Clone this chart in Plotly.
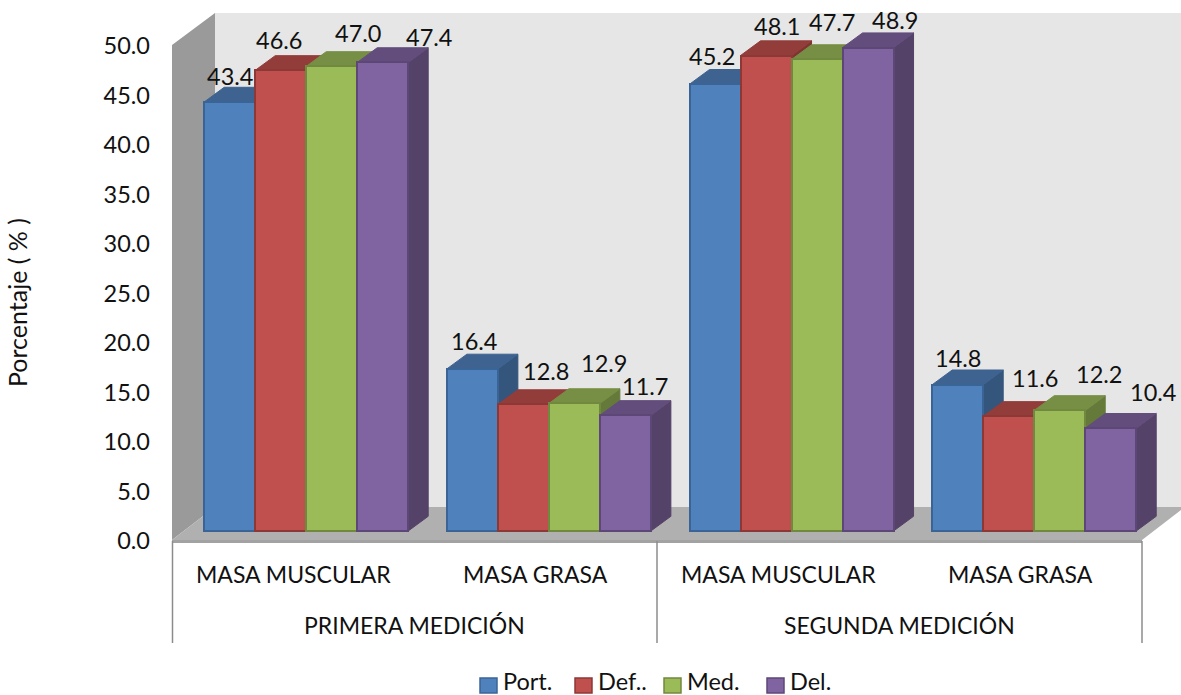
import plotly.graph_objects as go

# Body composition percentages per playing position
SERIES = ["Port.", "Def..", "Med.", "Del."]
PORT = [43.4, 16.4, 45.2, 14.8]
DEF = [46.6, 12.8, 48.1, 11.6]
MED = [47.0, 12.9, 47.7, 12.2]
DEL = [47.4, 11.7, 48.9, 10.4]
VALUES = [PORT, DEF, MED, DEL]

CATEGORIES = ["MASA MUSCULAR", "MASA GRASA", "MASA MUSCULAR", "MASA GRASA"]
MEASUREMENTS = ["PRIMERA MEDICIÓN", "SEGUNDA MEDICIÓN"]
Y_TICKS = [0, 5, 10, 15, 20, 25, 30, 35, 40, 45, 50]

FRONT = ["#4F81BD", "#C0504D", "#9BBB59", "#8064A2"]
EDGE = ["#3A6496", "#8C3836", "#71893F", "#5C4776"]
TOP = ["#3E6390", "#933D3B", "#778F44", "#624D7C"]
SIDE = ["#34557C", "#7F3432", "#657A3A", "#544268"]

# Hand-placed value labels: pixel offsets from each bar's top centre, by series then group
LABEL_DX = [[0.5, 1.5, -3, 0.5], [-1.5, 22.5, 10.5, 26.5], [26, 30, 15, 39], [46, 20, 27, 42.5]]
LABEL_DY = [[-26, -28, -28, -27], [-30, -33.5, -29.5, -38], [-33, -40.5, -37.5, -36], [-25.5, -29, -27.6, -36]]

# Legend entries: swatch left edge and label left edge in pixels
LEGEND_SWATCH_PX = [480, 575, 664, 767]
LEGEND_TEXT_PX = [501, 596, 685, 788]

W, H = 1181, 695
FONT = "Lato"
BAR_PX = 51.0
GROUP_PX = 242.67
FIRST_BAR_PX = 204.2
DEPTH_X_PX, DEPTH_Y_PX = 20.0, 14.7

# The wall axis has its zero on the front floor edge, the bar axes on the bar feet
WALL_ZERO_PX, WALL_SCALE = 541.0, 9.9
BAR_ZERO_PX, BAR_SCALE = 531.0, 9.885

wall_range = [(WALL_ZERO_PX - H) / WALL_SCALE, WALL_ZERO_PX / WALL_SCALE]
bar_range = [(BAR_ZERO_PX - H) / BAR_SCALE, BAR_ZERO_PX / BAR_SCALE]
x_range = [-FIRST_BAR_PX / BAR_PX, (W - FIRST_BAR_PX) / BAR_PX]

depth_x = DEPTH_X_PX / BAR_PX
depth_y = DEPTH_Y_PX / BAR_SCALE
group_step = GROUP_PX / BAR_PX


def bar_left(series, group):
    return group * group_step + series


fig = go.Figure()

# Carries the value axis so its ticks are drawn
fig.add_trace(go.Scatter(
    x=[x_range[0]] * len(Y_TICKS), y=Y_TICKS, mode="markers", marker=dict(opacity=0),
    hoverinfo="skip", showlegend=False,
))

# Side and top faces, painted from left to right
for s, name in enumerate(SERIES):
    side_x, side_y, top_x, top_y = [], [], [], []
    for g, v in enumerate(VALUES[s]):
        xl = bar_left(s, g)
        xr = xl + 1
        side_x += [xr, xr + depth_x, xr + depth_x, xr, xr, None]
        side_y += [0, depth_y, v + depth_y, v, 0, None]
        top_x += [xl, xl + depth_x, xr + depth_x, xr, xl, None]
        top_y += [v, v + depth_y, v + depth_y, v, v, None]
    for xs, ys, colour in ((side_x, side_y, SIDE[s]), (top_x, top_y, TOP[s])):
        fig.add_trace(go.Scatter(
            x=xs, y=ys, yaxis="y2", mode="lines", fill="toself", fillcolor=colour,
            line=dict(color=colour, width=1), hoverinfo="skip", showlegend=False,
        ))

# Front faces sit on an overlaying axis so they cover the neighbours' side faces
for s, name in enumerate(SERIES):
    fig.add_trace(go.Bar(
        name=name,
        x=[bar_left(s, g) + 0.5 for g in range(len(VALUES[s]))],
        y=VALUES[s],
        width=1,
        yaxis="y3",
        showlegend=False,
        marker=dict(color=FRONT[s], line=dict(color=EDGE[s], width=2)),
    ))


def px(x):
    return x / W


def py(y):
    return 1 - y / H


def polygon(points, fill, line=None):
    path = "M " + " L ".join(f"{px(x):.5f},{py(y):.5f}" for x, y in points) + " Z"
    return dict(type="path", path=path, xref="paper", yref="paper", fillcolor=fill,
                line=dict(width=0) if line is None else dict(color=line, width=1.5), layer="below")


def rule(x0, y0, x1, y1, colour, width):
    return dict(type="line", xref="paper", yref="paper", x0=px(x0), y0=py(y0), x1=px(x1), y1=py(y1),
                line=dict(color=colour, width=width), layer="below")


# Chart box: back wall, side wall, floor and the axis rules below it
shapes = [
    polygon([(215, 13), (W, 13), (W, 507), (215, 507)], "#E6E6E6"),
    polygon([(172, 45), (215, 13), (215, 507), (172, 540)], "#9A9A9A"),
    polygon([(172, 540), (215, 507), (1185, 507), (1142, 540)], "#B0B0B0"),
    polygon([(172, 540), (1142, 540), (1142, 543), (172, 543)], "#A2A2A2"),
]
for sep in (172.5, 657, 1142):
    shapes.append(rule(sep, 541, sep, 643, "#8C8C8C", 1.5))

annotations = []


def text(x, y, label, size=23, angle=0, xanchor="center"):
    annotations.append(dict(xref="paper", yref="paper", x=px(x), y=py(y), text=label,
                            showarrow=False, xanchor=xanchor, yanchor="middle", textangle=angle,
                            font=dict(family=FONT, size=size, color="#111111")))


for i, cat in enumerate(CATEGORIES):
    text(293.5 + i * 242.3, 574, cat)
for i, meas in enumerate(MEASUREMENTS):
    text(414.5 + i * 2 * GROUP_PX, 625, meas)
text(17, 303, "Porcentaje ( % )", size=25, angle=-90)

# Legend row
for s, name in enumerate(SERIES):
    x0 = LEGEND_SWATCH_PX[s]
    shapes.append(polygon([(x0, 678), (x0 + 17, 678), (x0 + 17, 693), (x0, 693)], FRONT[s], EDGE[s]))
    text(LEGEND_TEXT_PX[s], 681, name, size=23.5, xanchor="left")

# Value labels follow the bars through the bar axis
for s, vals in enumerate(VALUES):
    for g, v in enumerate(vals):
        annotations.append(dict(
            xref="x", yref="y3", x=bar_left(s, g) + 0.5, y=v, text=f"{v:.1f}",
            showarrow=False, xanchor="center", yanchor="middle",
            xshift=LABEL_DX[s][g], yshift=-LABEL_DY[s][g],
            font=dict(family=FONT, size=23.5, color="#111111"),
        ))

fig.update_layout(
    width=W, height=H, autosize=False,
    margin=dict(l=0, r=0, t=0, b=0, pad=0),
    paper_bgcolor="white", plot_bgcolor="rgba(0,0,0,0)",
    barmode="overlay", bargap=0, showlegend=False,
    font=dict(family=FONT, size=23, color="#111111"),
    shapes=shapes, annotations=annotations,
    xaxis=dict(range=x_range, visible=False, fixedrange=True, domain=[0, 1]),
    yaxis=dict(range=wall_range, anchor="free", position=150 / W, tickmode="array", tickvals=Y_TICKS,
               tickformat=".1f", showgrid=False, zeroline=False, showline=False, ticks="",
               tickfont=dict(family=FONT, size=23.5, color="#111111"), fixedrange=True, domain=[0, 1]),
    yaxis2=dict(range=bar_range, overlaying="y", visible=False, fixedrange=True),
    yaxis3=dict(range=bar_range, overlaying="y", visible=False, fixedrange=True),
)

fig.write_html("out.html")
